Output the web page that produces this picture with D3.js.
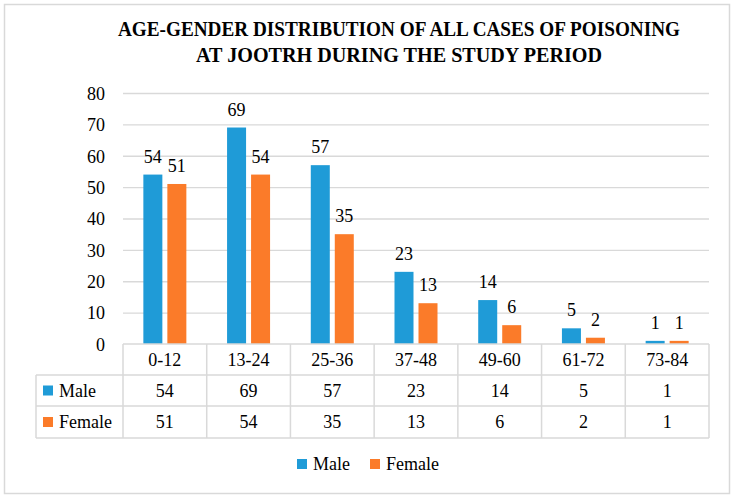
<!DOCTYPE html>
<html><head><meta charset="utf-8">
<script src="https://cdn.jsdelivr.net/npm/d3@7"></script>
<style>body{margin:0;background:#fff}svg{display:block}</style>
</head><body>
<script>
const categories = ["0-12","13-24","25-36","37-48","49-60","61-72","73-84"];
const seriesNames = ["Male","Female"];
const maleValues = [54,69,57,23,14,5,1];
const femaleValues = [51,54,35,13,6,2,1];
const yTicks = [0,10,20,30,40,50,60,70,80];
const titleLines = ["AGE-GENDER DISTRIBUTION OF ALL CASES OF POISONING","AT JOOTRH DURING THE STUDY PERIOD"];
const colors = {Male:"#1F9BD7", Female:"#FB7B29"};

const W=735,H=499;
const svg=d3.select("body").append("svg").attr("width",W).attr("height",H);
const font="Liberation Serif";
const fs=18;
const grid="#d9d9d9";

svg.append("rect").attr("x",4.5).attr("y",4.5).attr("width",725).attr("height",489)
  .attr("fill","#fff").attr("stroke",grid).attr("stroke-width",1.5);

// title
const tl=[{t:titleLines[0],y:36,w:562},{t:titleLines[1],y:62,w:406}];
svg.selectAll("text.title").data(tl).join("text").attr("class","title")
  .attr("x",399).attr("y",d=>d.y).attr("text-anchor","middle")
  .attr("font-family",font).attr("font-weight","bold").attr("font-size",20)
  .attr("textLength",d=>d.w).attr("lengthAdjust","spacingAndGlyphs")
  .attr("fill","#000").text(d=>d.t);

const x0=d3.scaleBand().domain(categories).range([123,709]);
const y=d3.scaleLinear().domain([0,80]).range([344,93]);
const barW=19, gap=5;
const x1=d3.scaleOrdinal().domain(seriesNames).range([-(gap/2+barW), gap/2]);

// gridlines
svg.append("g").selectAll("line").data(yTicks.filter(d=>d>0)).join("line")
  .attr("x1",123).attr("x2",709).attr("y1",d=>y(d)+0.5).attr("y2",d=>y(d)+0.5)
  .attr("stroke",grid).attr("stroke-width",1.3);

// y axis labels
const yAxis=d3.axisLeft(y).tickValues(yTicks).tickSize(0).tickPadding(0);
const ga=svg.append("g").attr("transform","translate(105,0)").call(yAxis).attr("font-family",font).attr("font-size",fs);
ga.select(".domain").remove();
ga.selectAll("text").attr("font-family",font).attr("font-size",fs).attr("fill","#000").attr("dy","0.35em");

const data=categories.map((c,i)=>({cat:c,vals:[{s:"Male",v:maleValues[i]},{s:"Female",v:femaleValues[i]}]}));
const g=svg.append("g").selectAll("g").data(data).join("g")
  .attr("transform",d=>`translate(${x0(d.cat)+x0.bandwidth()/2},0)`);
g.selectAll("rect").data(d=>d.vals).join("rect")
  .attr("x",d=>x1(d.s)).attr("width",barW)
  .attr("y",d=>y(d.v)).attr("height",d=>y(0)-y(d.v)).attr("fill",d=>colors[d.s]);
g.selectAll("text").data(d=>d.vals).join("text")
  .attr("x",d=>x1(d.s)+barW/2).attr("y",d=>y(d.v)-12).attr("text-anchor","middle")
  .attr("font-family",font).attr("font-size",fs).attr("fill","#000").text(d=>d.v);

// data table
const rowY=[344,375,406,438];
const tg=svg.append("g");
const lineAttr=s=>s.attr("stroke",grid).attr("stroke-width",1.5);
lineAttr(tg.append("line").attr("x1",123).attr("x2",709).attr("y1",rowY[0]).attr("y2",rowY[0]));
[1,2,3].forEach(i=>lineAttr(tg.append("line").attr("x1",36).attr("x2",709).attr("y1",rowY[i]).attr("y2",rowY[i])));
lineAttr(tg.append("line").attr("x1",36).attr("x2",36).attr("y1",rowY[1]).attr("y2",rowY[3]));
const bounds=categories.map(c=>x0(c)).concat([x0.range()[1]]);
bounds.forEach(b=>lineAttr(tg.append("line").attr("x1",b).attr("x2",b).attr("y1",rowY[0]).attr("y2",rowY[3])));

const cellText=(xx,yy,t)=>tg.append("text").attr("x",xx).attr("y",yy).attr("dy","0.35em")
  .attr("text-anchor","middle").attr("font-family",font).attr("font-size",fs).attr("fill","#000").text(t);
categories.forEach((c,i)=>{
  const cx=x0(c)+x0.bandwidth()/2;
  cellText(cx,(rowY[0]+rowY[1])/2,c);
  cellText(cx,(rowY[1]+rowY[2])/2,maleValues[i]);
  cellText(cx,(rowY[2]+rowY[3])/2,femaleValues[i]);
});
seriesNames.forEach((s,i)=>{
  const cy=(rowY[i+1]+rowY[i+2])/2;
  tg.append("rect").attr("x",43).attr("y",cy-5).attr("width",10).attr("height",10).attr("fill",colors[s]);
  tg.append("text").attr("x",59).attr("y",cy).attr("dy","0.35em").attr("font-family",font)
    .attr("font-size",fs).attr("fill","#000").text(s);
});

// legend
const leg=[{s:"Male",x:297},{s:"Female",x:370}];
leg.forEach(l=>{
  svg.append("rect").attr("x",l.x).attr("y",459).attr("width",10).attr("height",10).attr("fill",colors[l.s]);
  svg.append("text").attr("x",l.x+16).attr("y",464).attr("dy","0.35em").attr("font-family",font)
    .attr("font-size",fs).attr("fill","#000").text(l.s);
});
</script>
</body></html>
